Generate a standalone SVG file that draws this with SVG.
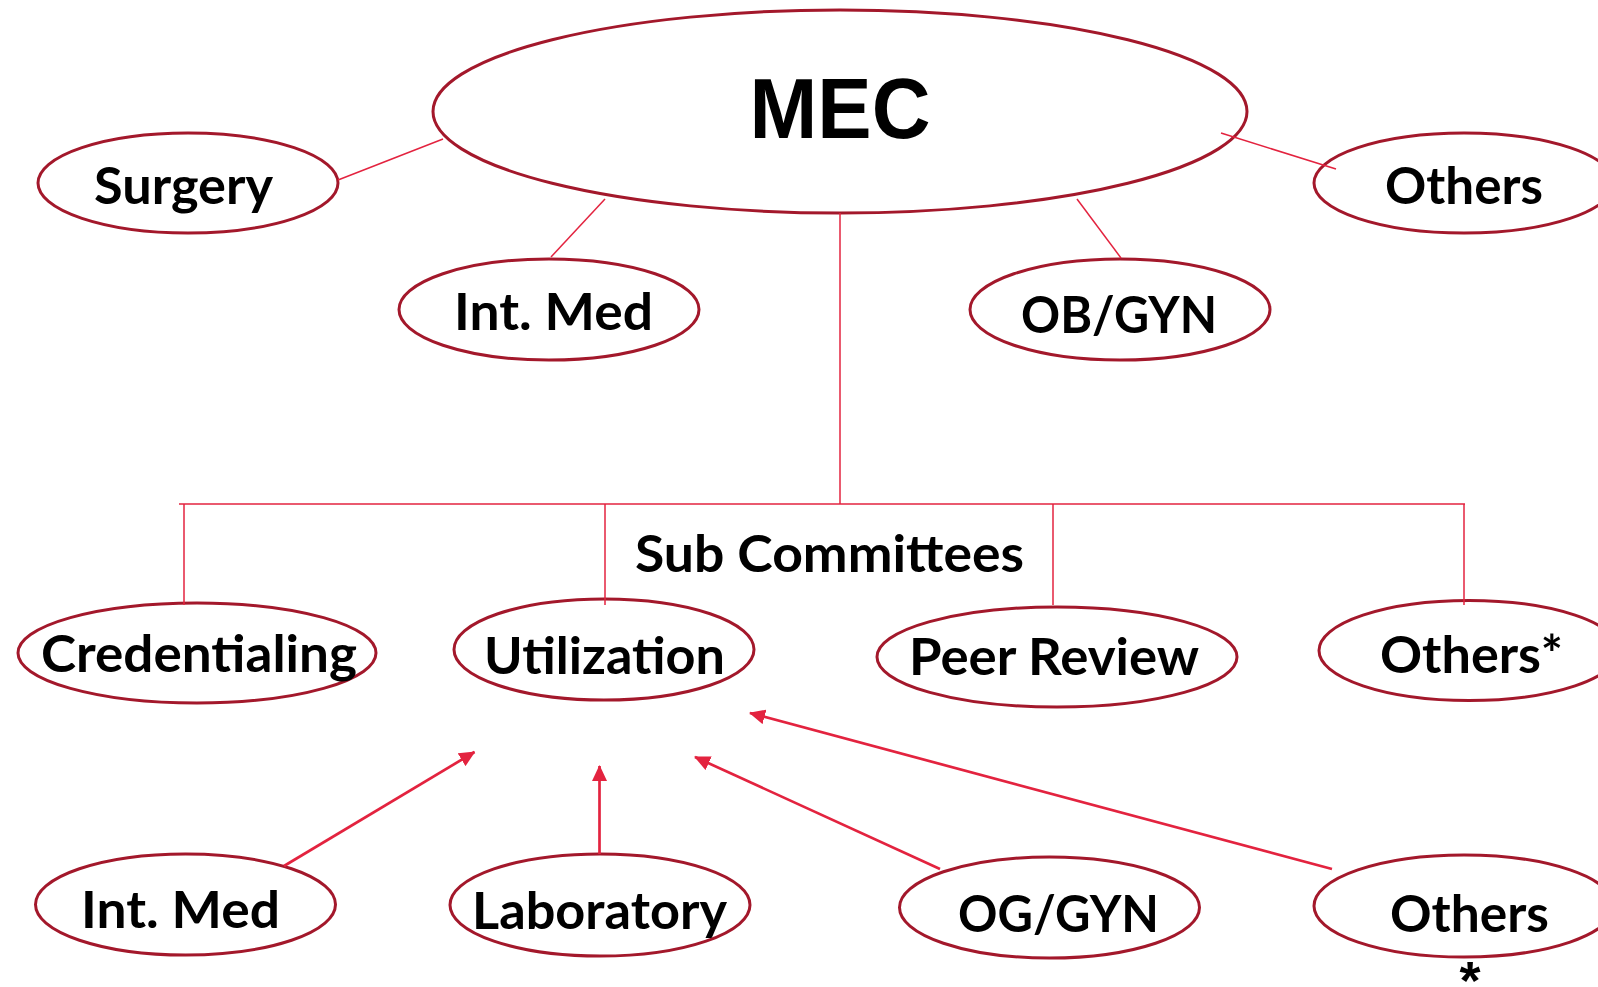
<svg xmlns="http://www.w3.org/2000/svg" width="1598" height="987" viewBox="0 0 1598 987">
<style>
.n{fill:#fff;stroke:#a3182b;stroke-width:3}
.t{font-family:Lato,"Open Sans","Liberation Sans",sans-serif;font-weight:bold;font-size:51px;fill:#000;text-anchor:middle}
.c{stroke:#e3233f;stroke-width:1.5;fill:none}
.a{stroke:#e3233f;stroke-width:2.7;fill:none;marker-end:url(#ah)}
</style>
<defs>
<marker id="ah" viewBox="0 0 16 15" refX="15" refY="7.5" markerWidth="16" markerHeight="15" markerUnits="userSpaceOnUse" orient="auto">
<path d="M0,0 L16,7.5 L0,15 Z" fill="#e3233f"/>
</marker>
</defs>
<rect width="1598" height="987" fill="#fff"/>
<g id="mec"><ellipse class="n" cx="840" cy="111.5" rx="407" ry="101.5"/>
<text x="840" y="138" font-family="'Liberation Sans',Arial,sans-serif" font-weight="bold" font-size="85" text-anchor="middle" textLength="181" lengthAdjust="spacingAndGlyphs">MEC</text></g>
<g id="surgery"><ellipse class="n" cx="188" cy="183" rx="150" ry="50"/><text class="t" x="183.5" y="204" textLength="179" lengthAdjust="spacingAndGlyphs">Surgery</text></g>
<g id="intmed-top"><ellipse class="n" cx="549" cy="309.5" rx="150" ry="50.5"/><text class="t" x="553.5" y="330" textLength="199" lengthAdjust="spacingAndGlyphs">Int. Med</text></g>
<g id="obgyn"><ellipse class="n" cx="1120" cy="309.5" rx="150" ry="50.5"/><text class="t" x="1119" y="333" textLength="196" lengthAdjust="spacingAndGlyphs">OB/GYN</text></g>
<g id="others-top"><ellipse class="n" cx="1464" cy="183" rx="150" ry="50"/><text class="t" x="1464" y="204" textLength="158" lengthAdjust="spacingAndGlyphs">Others</text></g>
<g id="subcommittees-label"><text class="t" x="829.5" y="572" textLength="389" lengthAdjust="spacingAndGlyphs">Sub Committees</text></g>
<g id="credentialing"><ellipse class="n" cx="197" cy="653" rx="179" ry="50"/><text class="t" x="199" y="672" textLength="316" lengthAdjust="spacingAndGlyphs">Credentialing</text></g>
<g id="utilization"><ellipse class="n" cx="604" cy="649.5" rx="150" ry="50.5"/><text class="t" x="604.5" y="674" textLength="241" lengthAdjust="spacingAndGlyphs">Utilization</text></g>
<g id="peerreview"><ellipse class="n" cx="1057" cy="657" rx="180" ry="50"/><text class="t" x="1054" y="675" textLength="290" lengthAdjust="spacingAndGlyphs">Peer Review</text></g>
<g id="others-star"><ellipse class="n" cx="1469" cy="650.5" rx="150" ry="50"/><text class="t" x="1471.5" y="673" textLength="183" lengthAdjust="spacingAndGlyphs">Others*</text></g>
<g id="intmed-bottom"><ellipse class="n" cx="185.5" cy="904.5" rx="150" ry="50.5"/><text class="t" x="180.5" y="928" textLength="199" lengthAdjust="spacingAndGlyphs">Int. Med</text></g>
<g id="laboratory"><ellipse class="n" cx="600" cy="905" rx="150" ry="51"/><text class="t" x="599.5" y="929" textLength="255" lengthAdjust="spacingAndGlyphs">Laboratory</text></g>
<g id="oggyn"><ellipse class="n" cx="1049.5" cy="907.5" rx="150" ry="50.5"/><text class="t" x="1058.5" y="932" textLength="201" lengthAdjust="spacingAndGlyphs">OG/GYN</text></g>
<g id="others-bottom"><ellipse class="n" cx="1464" cy="906" rx="150" ry="51"/><text class="t" x="1469.5" y="932" textLength="159" lengthAdjust="spacingAndGlyphs">Others</text><text x="1470" y="999" font-family="'Liberation Sans',Arial,sans-serif" font-weight="bold" font-size="54" text-anchor="middle">*</text></g>
<g id="connectors">
<line class="c" x1="338" y1="180" x2="443" y2="139"/>
<line class="c" x1="551" y1="257" x2="605" y2="199"/>
<line class="c" x1="1077" y1="199" x2="1121" y2="258"/>
<line class="c" x1="1221" y1="133" x2="1336" y2="169"/>
<line class="c" x1="840" y1="213" x2="840" y2="504"/>
<line class="c" x1="179" y1="504" x2="1465" y2="504"/>
<line class="c" x1="184" y1="504" x2="184" y2="605"/>
<line class="c" x1="605" y1="504" x2="605" y2="605"/>
<line class="c" x1="1053" y1="504" x2="1053" y2="605"/>
<line class="c" x1="1464" y1="504" x2="1464" y2="605"/>
</g>
<g id="arrows">
<line class="a" x1="284" y1="866" x2="474.5" y2="752"/>
<line class="a" x1="599.5" y1="854" x2="599.5" y2="766"/>
<line class="a" x1="940" y1="869" x2="695" y2="757"/>
<line class="a" x1="1332" y1="869" x2="750" y2="713"/>
</g>
</svg>
